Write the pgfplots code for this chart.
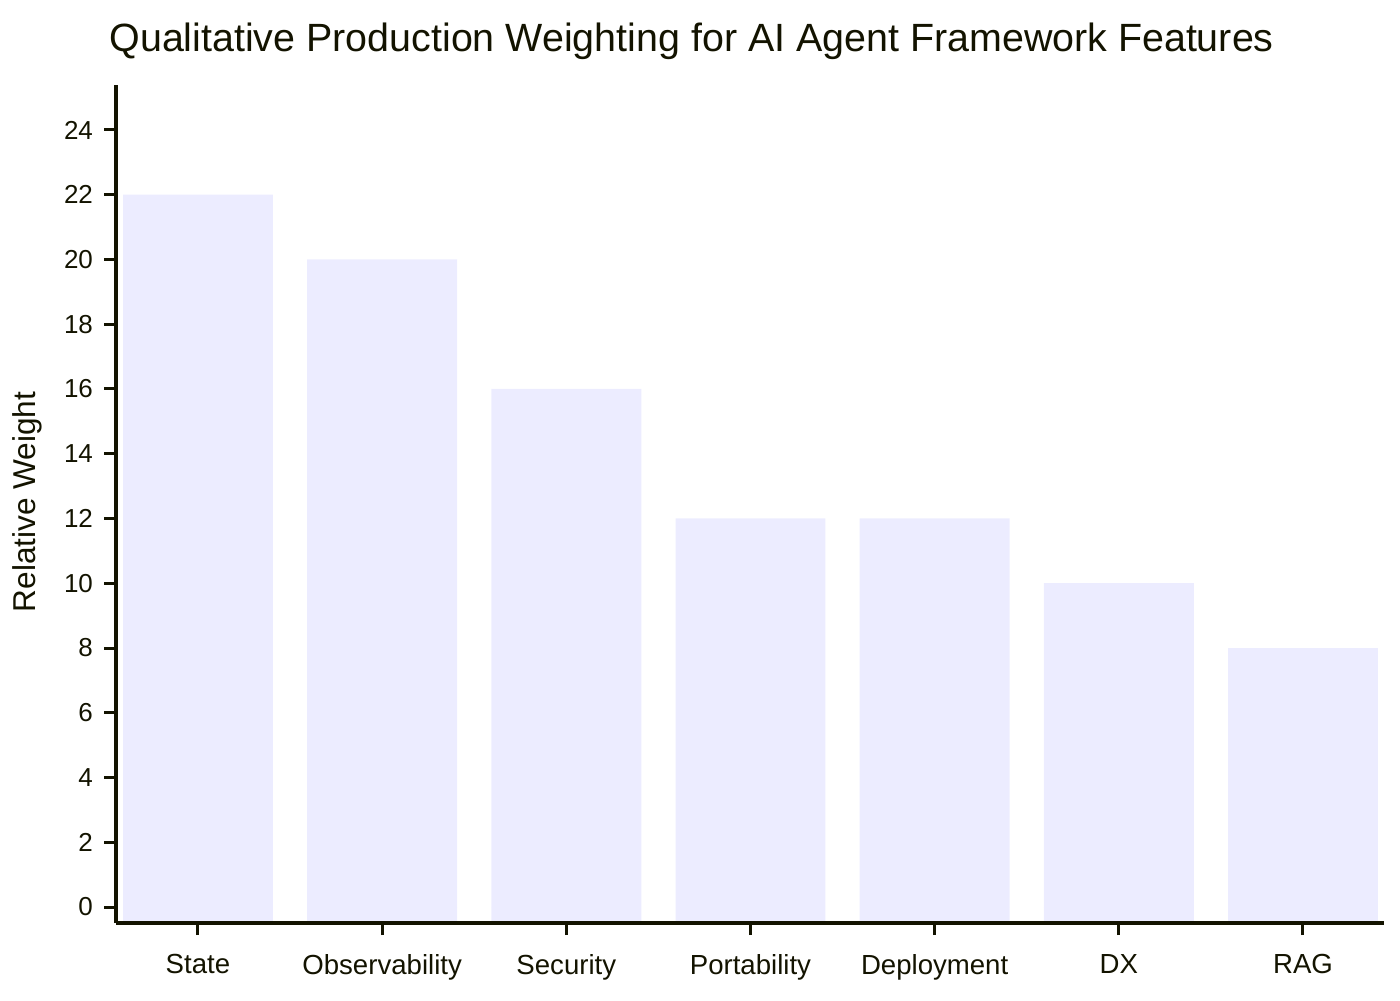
\documentclass[border=0pt]{standalone}
\usepackage{pgfplots}
\pgfplotsset{compat=1.18}
\usepackage{fontspec}
\setmainfont{Liberation Sans}
\definecolor{axiscol}{HTML}{131300}
\definecolor{barcol}{HTML}{ECECFF}
\begin{document}
\begin{tikzpicture}
\useasboundingbox (0,0) rectangle (700pt,500pt);
\begin{axis}[
  at={(58pt,38.5pt)}, anchor=south west,
  scale only axis, width=634pt, height=419pt,
  xmin=-0.445, xmax=6.44, ymin=-0.494, ymax=25.39,
  axis on top,
  axis lines*=left,
  axis line style={-, line width=1.7pt, color=axiscol},
  xtick={0,1,2,3,4,5,6},
  xticklabels={State,Observability,Security,Portability,Deployment,DX,RAG},
  ytick={0,2,...,24},
  tick align=outside,
  major tick length=6pt,
  every tick/.style={line width=1.5pt, color=axiscol},
  tick label style={font=\fontsize{13}{15}\selectfont, text=axiscol},
  xticklabel style={yshift=-6pt, font=\fontsize{13.8}{16}\selectfont},
  yticklabel style={xshift=-2pt},
  /pgf/number format/assume math mode=true,
  clip=false,
]
\addplot[ybar, bar width=0.814, bar shift=0pt, fill=barcol, draw=none]
  coordinates {(0,22) (1,20) (2,16) (3,12) (4,12) (5,10) (6,8)};
\addplot[ybar, bar width=0.814, bar shift=0pt, fill=barcol, draw=none]
  coordinates {(0,-0.45) (1,-0.45) (2,-0.45) (3,-0.45) (4,-0.45) (5,-0.45) (6,-0.45)};
\end{axis}
\node[text=axiscol, font=\fontsize{19.7}{23}\selectfont] at (345.8pt,479.5pt) {Qualitative Production Weighting for AI Agent Framework Features};
\node[text=axiscol, font=\fontsize{15.8}{18}\selectfont, rotate=90] at (13.5pt,249pt) {Relative Weight};
\end{tikzpicture}
\end{document}
